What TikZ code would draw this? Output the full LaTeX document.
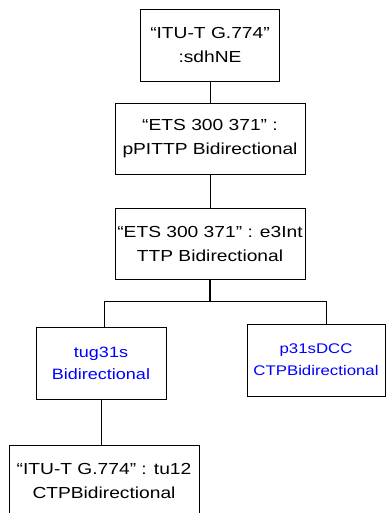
\documentclass[tikz,border=0pt]{standalone}
\usepackage{fontspec}
\setmainfont{Liberation Sans}[FakeStretch=1.2]
\begin{document}
\begin{tikzpicture}[x=1pt,y=-1pt,
    obj/.style={draw,line width=0.8pt,align=center,inner sep=0pt,
      minimum width=190pt,minimum height=71pt,
      font=\fontsize{16}{24}\selectfont},
    tp/.style={obj,text=blue}]
  \useasboundingbox (0,0) rectangle (386,513);
  \draw
    (210,45) node[obj,minimum width=139pt,minimum height=72pt] (ne){“ITU-T G.774”\\:sdhNE}
    (210,138.5) node[obj] (pittp){“ETS 300 371” :\\pPITTP Bidirectional}
    (210,243.5) node[obj] (e3int){“ETS 300 371” : e3Int\\TTP Bidirectional}
    (101,363) node[tp,minimum width=130pt,minimum height=72pt,
      font=\fontsize{15}{22}\selectfont] (tug){tug31s\\Bidirectional}
    (316,360) node[tp,minimum width=138pt,minimum height=72pt,
      font=\fontsize{14}{22}\selectfont] (dcc){p31sDCC\\CTPBidirectional}
    (104,481) node[obj] (tu){“ITU-T G.774” : tu12\\CTPBidirectional};
  \coordinate (split) at (210,301);
  \begin{scope}[line width=0.8pt]
    \draw (ne) to (pittp);
    \draw (pittp) to (e3int);
    \draw[line width=1.4pt] (e3int) to (split);
    \draw ([xshift=3pt]tug.north) |- (split);
    \draw (split) -| ([xshift=10pt]dcc.north);
    \draw (tug.south) to (tug.south |- tu.north);
  \end{scope}
\end{tikzpicture}
\end{document}
